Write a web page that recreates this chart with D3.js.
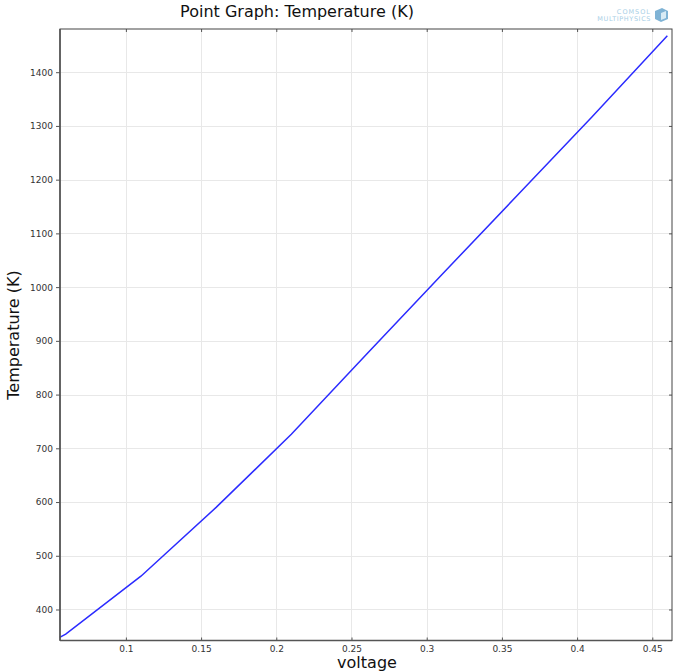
<!DOCTYPE html>
<html lang="en">
<head>
  <meta charset="UTF-8">
  <title>Point Graph</title>
  <style>
    body { margin: 0; background: #fff; }
    text { font-family: "DejaVu Sans", sans-serif; }
  </style>
</head>
<body>
  <svg></svg>
  <script src="https://cdn.jsdelivr.net/npm/d3@7"></script>
  <script>
    // data
    var voltage = [0.056, 0.06, 0.11, 0.16, 0.21, 0.26, 0.31, 0.36, 0.41, 0.46];
    var temperature = [348, 354, 462, 590, 726, 875, 1023, 1170, 1317, 1468];
    var xTicks = [0.1, 0.15, 0.2, 0.25, 0.3, 0.35, 0.4, 0.45];
    var yTicks = [400, 500, 600, 700, 800, 900, 1000, 1100, 1200, 1300, 1400];

    var width = 673, height = 671;
    var mLeft = 60, mRight = 672, mTop = 29, mBottom = 640.5;

    var svg = d3.select("svg")
      .attr("width", width)
      .attr("height", height);

    var x = d3.scaleLinear().domain([0.0562, 0.4631]).range([mLeft, mRight]);
    var y = d3.scaleLinear().domain([342.3, 1480.4]).range([mBottom, mTop]);

    // grid
    var grid = svg.append("g").attr("stroke", "#e8e8e8").attr("stroke-width", 1);
    grid.selectAll(".gx").data(xTicks).join("line")
      .attr("x1", d => Math.round(x(d)) + 0.5).attr("x2", d => Math.round(x(d)) + 0.5)
      .attr("y1", mTop).attr("y2", mBottom);
    grid.selectAll(".gy").data(yTicks).join("line")
      .attr("y1", d => Math.round(y(d)) + 0.5).attr("y2", d => Math.round(y(d)) + 0.5)
      .attr("x1", mLeft).attr("x2", mRight);

    // line
    var pts = voltage.map((v, i) => [v, temperature[i]]);
    svg.append("path")
      .datum(pts)
      .attr("fill", "none")
      .attr("stroke", "#2b2bff")
      .attr("stroke-width", 1.5)
      .attr("d", d3.line().x(d => x(d[0])).y(d => y(d[1])));

    // axes
    var fmt = d3.format("~g");
    var bAxis = d3.axisBottom(x).tickValues(xTicks).tickSize(-3).tickPadding(5).tickFormat(fmt);
    var lAxis = d3.axisLeft(y).tickValues(yTicks).tickSize(4).tickPadding(3).tickFormat(fmt);
    var tAxis = d3.axisTop(x).tickValues(xTicks).tickSize(-3).tickFormat("");
    var rAxis = d3.axisRight(y).tickValues(yTicks).tickSize(-3).tickFormat("");

    function style(g) {
      g.select(".domain").remove();
      g.selectAll(".tick line").attr("stroke", "#555");
      g.selectAll(".tick text").attr("fill", "#333").attr("font-size", 9)
        .attr("font-family", "DejaVu Sans, sans-serif");
    }
    svg.append("g").attr("transform", `translate(0,${mBottom})`).call(bAxis).call(style);
    svg.append("g").attr("transform", `translate(${mLeft},0)`).call(lAxis).call(style);
    svg.append("g").attr("transform", `translate(0,${mTop})`).call(tAxis).call(style);
    svg.append("g").attr("transform", `translate(${mRight},0)`).call(rAxis).call(style);

    // frame
    svg.append("rect")
      .attr("x", mLeft).attr("y", mTop)
      .attr("width", mRight - mLeft).attr("height", mBottom - mTop)
      .attr("fill", "none").attr("stroke", "#444").attr("stroke-width", 1);
    svg.append("line").attr("x1", mLeft).attr("x2", mLeft).attr("y1", mTop).attr("y2", mBottom)
      .attr("stroke", "#555").attr("stroke-width", 1.6);
    svg.append("line").attr("x1", mLeft).attr("x2", mRight).attr("y1", mBottom).attr("y2", mBottom)
      .attr("stroke", "#555").attr("stroke-width", 1.6);

    // titles
    svg.append("text").attr("x", 297).attr("y", 17).attr("text-anchor", "middle")
      .attr("font-size", 16).attr("fill", "#111").text("Point Graph: Temperature (K)");
    svg.append("text").attr("x", 367).attr("y", 668).attr("text-anchor", "middle")
      .attr("font-size", 16).attr("fill", "#111").text("voltage");
    svg.append("text").attr("transform", "translate(19,335) rotate(-90)")
      .attr("text-anchor", "middle").attr("font-size", 16).attr("fill", "#111")
      .text("Temperature (K)");

    // logo
    var logo = svg.append("g").attr("fill", "#a9cfe6");
    logo.append("text").attr("x", 651).attr("y", 14).attr("text-anchor", "end")
      .attr("font-size", 6.5).attr("letter-spacing", 1).text("COMSOL");
    logo.append("text").attr("x", 651).attr("y", 21).attr("text-anchor", "end")
      .attr("font-size", 6.5).attr("letter-spacing", 0.6).text("MULTIPHYSICS");
    logo.append("path").attr("d", "M655,11 L662,8 L668,11 L668,19 L661,22 L655,19 Z")
      .attr("fill", "#7fb3d5");
    logo.append("path").attr("d", "M661,13 L666,11 L666,18 L661,20 Z").attr("fill", "#d8ebf5");
  </script>
</body>
</html>
